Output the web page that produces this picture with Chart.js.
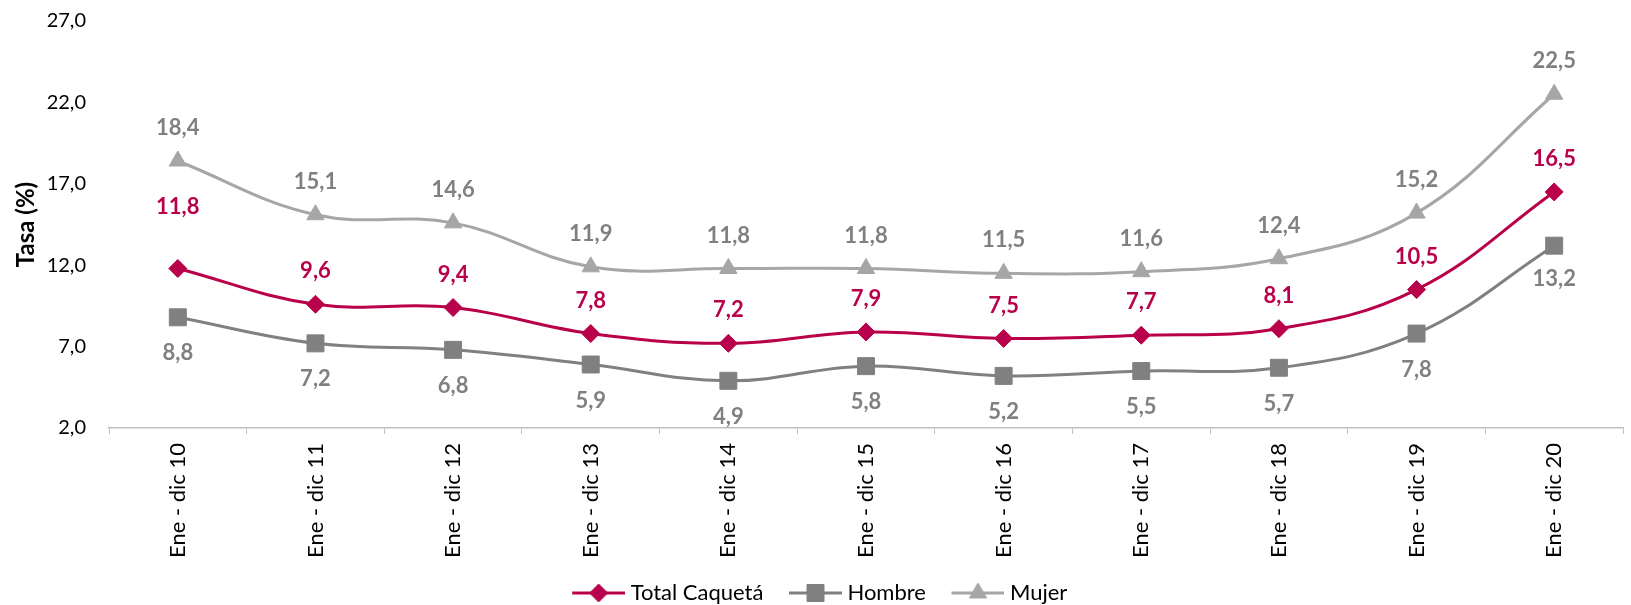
<!DOCTYPE html>
<html>
<head>
<meta charset="utf-8">
<script src="https://cdn.jsdelivr.net/npm/chart.js@4.4.1/dist/chart.umd.min.js"></script>
<style>
    html, body { margin: 0; padding: 0; background: #fff; overflow: hidden; }
    #tasaChart { display: block; }
</style>
</head>
<body>
<canvas id="tasaChart" width="1636" height="605"></canvas>
<script>
// values
const categories = ['Ene - dic 10', 'Ene - dic 11', 'Ene - dic 12', 'Ene - dic 13', 'Ene - dic 14', 'Ene - dic 15',
    'Ene - dic 16', 'Ene - dic 17', 'Ene - dic 18', 'Ene - dic 19', 'Ene - dic 20'];
const totalCaqueta = [11.8, 9.6, 9.4, 7.8, 7.2, 7.9, 7.5, 7.7, 8.1, 10.5, 16.5];
const hombre = [8.8, 7.2, 6.8, 5.9, 4.9, 5.8, 5.2, 5.5, 5.7, 7.8, 13.2];
const mujer = [18.4, 15.1, 14.6, 11.9, 11.8, 11.8, 11.5, 11.6, 12.4, 15.2, 22.5];
const yMin = 2, yMax = 27, yStep = 5;

const FONT = 'Lato';
const fmt = v => v.toFixed(1).replace('.', ',');

// little line + marker picture for the legend entries
// (transparent margin on the left so the line sits close to the text)
function legendSwatch(color, style, radius) {
    const c = document.createElement('canvas');
    c.width = 62;
    c.height = 26;
    const g = c.getContext('2d');
    g.strokeStyle = color;
    g.lineWidth = 3;
    g.beginPath();
    g.moveTo(9, 13);
    g.lineTo(62, 13);
    g.stroke();
    g.fillStyle = color;
    g.strokeStyle = color;
    g.lineWidth = 1;
    Chart.helpers.drawPoint(g, { pointStyle: style, radius: radius, borderWidth: 1 }, 35.5, 13);
    return c;
}

const pointLabels = {
    id: 'pointLabels',
    afterDatasetsDraw(chart) {
        const ctx = chart.ctx;
        chart.data.datasets.forEach((ds, i) => {
            const meta = chart.getDatasetMeta(i);
            const opt = ds.valueLabel;
            ctx.save();
            ctx.font = 'bold 22px ' + FONT;
            ctx.fillStyle = opt.color;
            ctx.textAlign = 'center';
            ctx.textBaseline = 'middle';
            meta.data.forEach((pt, j) => {
                const off = (opt.shift && opt.shift[j]) || opt.offset;
                const y = opt.side === 'top' ? pt.y - off : pt.y + off;
                ctx.fillText(fmt(ds.data[j]), pt.x, y);
            });
            ctx.restore();
        });
    }
};

function series(label, data, color, style, radius, valueLabel) {
    return {
        label: label,
        data: data,
        borderColor: color,
        backgroundColor: color,
        borderWidth: 3,
        tension: 0.4,
        pointStyle: style,
        pointRadius: radius,
        pointHoverRadius: radius,
        pointBackgroundColor: color,
        pointBorderColor: color,
        pointBorderWidth: 1,
        swatch: legendSwatch(color, style, radius),
        valueLabel: valueLabel
    };
}

new Chart(document.getElementById('tasaChart'), {
    type: 'line',
    data: {
        labels: categories,
        datasets: [
            series('Total Caquetá', totalCaqueta, '#B8004B', 'rectRot', 9,
                { side: 'top', offset: 33, color: '#B8004B', shift: { 0: 62 } }),
            series('Hombre', hombre, '#808080', 'rect', 12,
                { side: 'bottom', offset: 36, color: '#808080', shift: { 10: 33 } }),
            series('Mujer', mujer, '#A6A6A6', 'triangle', 10,
                { side: 'top', offset: 33, color: '#808080' })
        ]
    },
    options: {
        responsive: false,
        animation: false,
        devicePixelRatio: 1,
        layout: { padding: { top: 21, right: 0, bottom: -9, left: 0 } },
        plugins: {
            tooltip: { enabled: false },
            legend: {
                position: 'bottom',
                labels: {
                    usePointStyle: true,
                    pointStyleWidth: 51,
                    padding: 22,
                    color: '#000',
                    font: { family: FONT, size: 22 },
                    generateLabels: chart => chart.data.datasets.map((ds, i) => ({
                        text: ds.label,
                        pointStyle: ds.swatch,
                        fillStyle: ds.borderColor,
                        strokeStyle: ds.borderColor,
                        lineWidth: 0,
                        fontColor: '#000',
                        datasetIndex: i
                    }))
                }
            }
        },
        scales: {
            x: {
                offset: true,
                grid: {
                    offset: true,
                    drawOnChartArea: false,
                    drawTicks: true,
                    tickLength: 6,
                    color: '#BFBFBF'
                },
                border: { color: '#BFBFBF', width: 1.5 },
                ticks: {
                    minRotation: 90,
                    maxRotation: 90,
                    autoSkip: false,
                    padding: 9,
                    color: '#000',
                    font: { family: FONT, size: 22 }
                },
                afterFit: scale => { scale.height = 132; }
            },
            y: {
                min: yMin,
                max: yMax,
                grid: { display: false, drawTicks: true, tickLength: 18 },
                border: { display: false },
                ticks: {
                    stepSize: yStep,
                    padding: 5,
                    color: '#000',
                    font: { family: FONT, size: 20 },
                    callback: v => fmt(v)
                },
                title: {
                    display: true,
                    text: 'Tasa (%)',
                    color: '#000',
                    font: { family: FONT, size: 24, weight: 'bold' },
                    padding: { top: 12, bottom: 0 }
                },
                afterFit: scale => { scale.width = 109; }
            }
        }
    },
    plugins: [pointLabels]
});
</script>
</body>
</html>
